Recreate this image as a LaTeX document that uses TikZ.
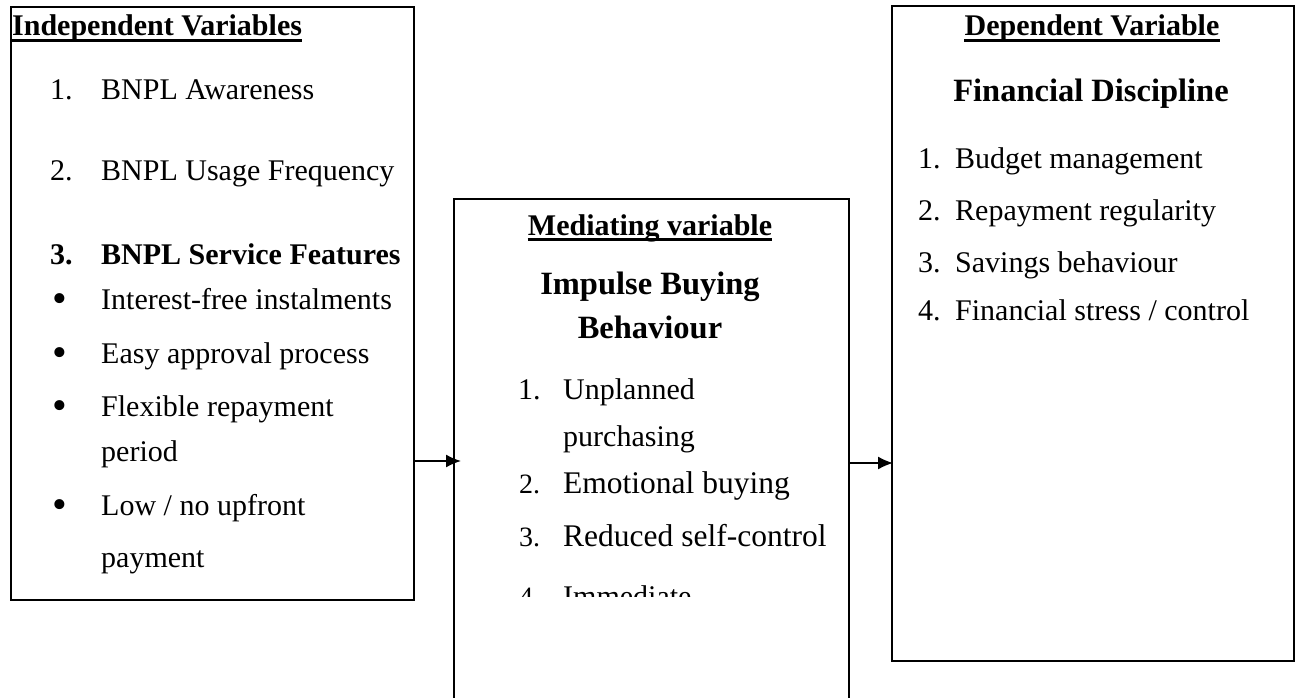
\documentclass[tikz,border=0pt]{standalone}
\usepackage{fontspec}
\setmainfont{Liberation Serif}
\usetikzlibrary{arrows.meta}
\begin{document}
\begin{tikzpicture}[x=1pt,y=-1pt,
  box/.style={draw,line width=2pt,inner sep=0pt,anchor=north west},
  txt/.style={anchor=base west,inner sep=0pt,font=\fontsize{30}{36}\selectfont},
  bigtxt/.style={anchor=base west,inner sep=0pt,font=\fontsize{31.5}{38}\selectfont},
  smallnum/.style={anchor=base west,inner sep=0pt,font=\fontsize{28}{32}\selectfont},
  bul/.style={anchor=base west,inner sep=0pt,font=\fontsize{42}{46}\selectfont},
  head/.style={inner sep=0pt,font=\fontsize{30}{36}\selectfont\bfseries},
  sub/.style={anchor=base,inner sep=0pt,font=\fontsize{32.5}{38}\selectfont\bfseries},
  uline/.style={line width=2.2pt},
  conn/.style={line width=1.5pt,-{Latex[length=15pt,width=13pt]}}]
\clip (0,0) rectangle (1295,698);
% boxes
\node[box,minimum width=403pt,minimum height=593pt] (lbox) at (10,6) {};
\node[box,minimum width=395pt,minimum height=540pt] (mbox) at (453,198) {};
\node[box,minimum width=402pt,minimum height=655pt] (rbox) at (891,5) {};
% left box texts
\node[head,anchor=base west] (lh) at (12,36) {Independent Variables};
\draw[uline] ([yshift=-4.5pt]lh.base west) -- ([yshift=-4.5pt]lh.base east);
\node[txt] (l1n) at (50,100) {1.};
\node[txt] (l1) at (101,100) {BNPL Awareness};
\node[txt] (l2n) at (50,180) {2.};
\node[txt] (l2) at (101,180) {BNPL Usage Frequency};
\node[txt,font=\fontsize{30}{36}\selectfont\bfseries] (l3n) at (50,264) {3.};
\node[txt,font=\fontsize{30}{36}\selectfont\bfseries] (l3) at (101,264) {BNPL Service Features};
\node[bul] (b1d) at (52,312) {\textbullet};
\node[txt] (b1) at (101,309) {Interest-free instalments};
\node[bul] (b2d) at (52,366) {\textbullet};
\node[txt] (b2) at (101,363) {Easy approval process};
\node[bul] (b3d) at (52,419) {\textbullet};
\node[txt] (b3) at (101,416) {Flexible repayment};
\node[txt] (b3b) at (101,461) {period};
\node[bul] (b4d) at (52,518) {\textbullet};
\node[txt] (b4) at (101,515) {Low / no upfront};
\node[txt] (b4b) at (101,567) {payment};
% middle box texts
\node[head,anchor=base] (mh) at (650,235) {Mediating variable};
\draw[uline] ([yshift=-4.5pt]mh.base west) -- ([yshift=-4.5pt]mh.base east);
\node[sub] (mt1) at (650,294) {Impulse Buying};
\node[sub] (mt2) at (650,338) {Behaviour};
\node[txt] (m1n) at (518,399) {1.};
\node[txt] (m1) at (563,399) {Unplanned};
\node[txt] (m1b) at (563,446) {purchasing};
\node[smallnum] (m2n) at (519,493) {2.};
\node[bigtxt] (m2) at (563,493) {Emotional buying};
\node[smallnum] (m3n) at (519,546) {3.};
\node[bigtxt] (m3) at (563,546) {Reduced self-control};
\begin{scope}
\clip (455,560) rectangle (846,596);
\node[smallnum] (m4n) at (519,606) {4.};
\node[txt] (m4) at (563,606) {Immediate};
\end{scope}
% right box texts
\node[head,anchor=base] (rh) at (1092,36) {Dependent Variable};
\draw[uline] ([yshift=-4.5pt]rh.base west) -- ([yshift=-4.5pt]rh.base east);
\node[sub] (rt) at (1091,102) {Financial Discipline};
\node[txt] (r1n) at (918,168) {1.};
\node[txt] (r1) at (955,168) {Budget management};
\node[txt] (r2n) at (918,220) {2.};
\node[txt] (r2) at (955,220) {Repayment regularity};
\node[txt] (r3n) at (918,272) {3.};
\node[txt] (r3) at (955,272) {Savings behaviour};
\node[txt] (r4n) at (918,320) {4.};
\node[txt] (r4) at (955,320) {Financial stress / control};
% connectors
\coordinate (a1) at (0,461);
\coordinate (a2) at (0,463);
\draw[conn] (lbox.east |- a1) -- ([xshift=8pt]mbox.west |- a1);
\draw[conn] (mbox.east |- a2) -- ([xshift=2pt]rbox.west |- a2);
\end{tikzpicture}
\end{document}
